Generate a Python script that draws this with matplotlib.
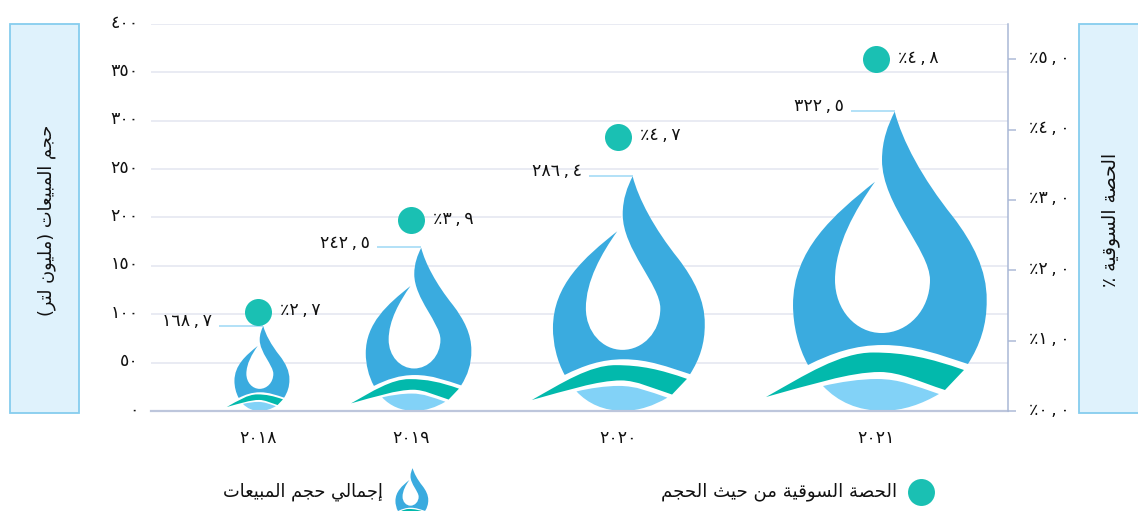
import numpy as np
import matplotlib
matplotlib.use('Agg')
import matplotlib.pyplot as plt
from matplotlib.lines import Line2D
from matplotlib.patches import PathPatch, Rectangle
from matplotlib.path import Path
from matplotlib.transforms import ScaledTranslation

W, H = 1138, 511

years = ['٢٠١٨', '٢٠١٩', '٢٠٢٠', '٢٠٢١']
drop_heights = [88, 169, 243, 310]
share_heights = [1.41, 2.71, 3.9, 5.0]
value_labels = ['١٦٨\u2009,\u2009٧', '٢٤٢\u2009,\u2009٥', '٢٨٦\u2009,\u2009٤', '٣٢٢\u2009,\u2009٥']
share_labels = ['٪٢\u2009,\u2009٧', '٪٣\u2009,\u2009٩', '٪٤\u2009,\u2009٧', '٪٤\u2009,\u2009٨']
left_ticks = [0, 50, 100, 150, 200, 250, 300, 350, 400]
left_labels = ['٠', '٥٠', '١٠٠', '١٥٠', '٢٠٠', '٢٥٠', '٣٠٠', '٣٥٠', '٤٠٠']
right_ticks = [0, 1, 2, 3, 4, 5]
right_labels = ['٪٠\u2009,\u2009٠', '٪١\u2009,\u2009٠', '٪٢\u2009,\u2009٠', '٪٣\u2009,\u2009٠', '٪٤\u2009,\u2009٠', '٪٥\u2009,\u2009٠']
left_title = 'حجم المبيعات (مليون لتر)'
right_title = 'الحصة السوقية ٪'
legend_drop = 'إجمالي حجم المبيعات'
legend_dot = 'الحصة السوقية من حيث الحجم'

BLUE = '#3AABDF'
TEAL = '#02B9AC'
LIGHT = '#82D2F7'
DOT = '#1AC0B3'
TEXT = '#111111'
NUM_SIZE = 12.5

# category centres on the x axis, the spacing is uneven in the original
cat_x = [107, 260, 467, 725]

# matplotlib has no arabic shaping, so map to presentation forms by hand
FOUR = {'ب': 0xFE8F, 'ت': 0xFE95, 'ث': 0xFE99, 'ج': 0xFE9D, 'ح': 0xFEA1, 'س': 0xFEB1,
        'ص': 0xFEB9, 'ع': 0xFEC9, 'ق': 0xFED5, 'ل': 0xFEDD, 'م': 0xFEE1, 'ن': 0xFEE5, 'ي': 0xFEF1}
TWO = {'ا': 0xFE8D, 'إ': 0xFE87, 'ة': 0xFE93, 'ر': 0xFEAD, 'و': 0xFEED}


def shape_ar(text):
    out = []
    for i, c in enumerate(text):
        prev_joins = i > 0 and text[i - 1] in FOUR
        next_joins = i < len(text) - 1 and (text[i + 1] in FOUR or text[i + 1] in TWO)
        if c in FOUR:
            offset = {(False, False): 0, (True, False): 1, (False, True): 2, (True, True): 3}[(prev_joins, next_joins)]
            out.append(chr(FOUR[c] + offset))
        elif c in TWO:
            out.append(chr(TWO[c] + (1 if prev_joins else 0)))
        else:
            out.append({'(': ')', ')': '('}.get(c, c))
    return ''.join(reversed(out))


def fig_xy(x, y):
    return x / W, 1 - y / H


# drop symbol traced off the biggest drop, in pixels: centre x 876, base y 411, height 300
# each step is (c1, c2, end) for a cubic or (end,) for a straight line
REF_X, REF_Y, REF_H = 876, 411, 300
TIP = (894.7, 111.5)
LEFT_TIP = (875, 181.7)
RIGHT_SIDE = [((902, 140), (922, 178), (953, 216.7)),
              ((973, 243), (987, 270), (986.7, 300)),
              ((987, 325), (980, 345), (968, 364))]
LEFT_SIDE = [((798, 347), (793, 325), (793, 305)),
             ((793, 250), (833, 215), LEFT_TIP)]
WAVE = [((940, 355), (915, 345), (883, 345)),
        ((855, 345), (832, 353), (808, 365))]
INNER = [((855, 210), (835, 245), (835, 280)),
         ((835, 310), (856, 333), (881.7, 333)),
         ((908, 333), (930, 310), (930, 280)),
         ((930, 250), (882, 205), (882, 160)),
         ((882, 140), (888, 125), TIP)]
BOTTOM = [((945, 390),),
          ((930, 403), (905, 410.8), (883, 410.8)),
          ((850, 410.8), (822, 392), (808, 365))]
BAND_START = (766, 397)
BAND = [((805, 375), (840, 352.5), (873, 352.5)),
        ((905, 352.5), (930, 358), (964, 370)),
        ((945, 390),),
        ((920, 382), (900, 372), (880, 372)),
        ((850, 372), (810, 385), BAND_START)]
POOL_START = (823, 386)
POOL = [((840, 382), (860, 379), (877, 379)),
        ((900, 379), (915, 386), (939, 394)),
        ((922, 404), (903, 410.8), (883, 410.8)),
        ((858, 410.8), (838, 402), POOL_START)]


def build(start, steps):
    verts = [start]
    codes = [Path.MOVETO]
    for step in steps:
        verts += list(step)
        codes += [Path.CURVE4] * 3 if len(step) == 3 else [Path.LINETO]
    verts.append(start)
    codes.append(Path.CLOSEPOLY)
    return np.array(verts, dtype=float), codes


def draw_drop(ax, x, height, base=0.0):
    py = ax.bbox.height / (ax.get_ylim()[1] - ax.get_ylim()[0])
    scale = height * py / REF_H

    def add(start, steps, color, z):
        verts, codes = build(start, steps)
        xs = x + (verts[:, 0] - REF_X) * scale
        ys = base + (REF_Y - verts[:, 1]) * scale / py
        ax.add_patch(PathPatch(Path(np.column_stack([xs, ys]), codes), facecolor=color, edgecolor='none',
                               zorder=z, clip_on=False))

    # white silhouette keeps the grid lines out of the hole
    add(TIP, RIGHT_SIDE + BOTTOM + LEFT_SIDE, 'white', 2)
    add(TIP, RIGHT_SIDE + WAVE + LEFT_SIDE + INNER, BLUE, 3)
    add(BAND_START, BAND, TEAL, 3)
    add(POOL_START, POOL, LIGHT, 3)
    return x + (TIP[0] - REF_X) * scale


fig = plt.figure(figsize=(W / 100, H / 100), dpi=100)
ax = fig.add_axes([151 / W, 1 - 411 / H, 857 / W, 387 / H])
ax.set_xlim(0, 857)
ax.set_ylim(0, 400)
ax.set_axisbelow(True)
ax.yaxis.grid(True, color='#E3E6F0', linewidth=1.1)
ax.xaxis.grid(False)
for side in ['left', 'right', 'top']:
    ax.spines[side].set_visible(False)
ax.spines['bottom'].set_color('#BDC6DC')
ax.spines['bottom'].set_linewidth(1.6)
ax.spines['bottom'].set_zorder(5)
ax.set_yticks(left_ticks)
ax.set_yticklabels(left_labels, fontsize=NUM_SIZE, color=TEXT)
ax.tick_params(axis='y', length=0, pad=9)
ax.set_xticks(cat_x)
ax.set_xticklabels(years, fontsize=NUM_SIZE, color=TEXT)
ax.tick_params(axis='x', length=0, pad=13)

ax2 = ax.twinx()
ax2.set_ylim(0, 5.5)
for side in ['left', 'top', 'bottom']:
    ax2.spines[side].set_visible(False)
ax2.spines['right'].set_color('#A9B8D6')
ax2.spines['right'].set_linewidth(1.1)
ax2.set_yticks(right_ticks)
ax2.set_yticklabels(right_labels, fontsize=NUM_SIZE, color=TEXT)
ax2.tick_params(axis='y', length=5.8, width=1.2, color='#B4C0DA', pad=9)

# the digits sit a little above their ticks in the original
lift = ScaledTranslation(0, 2.5 / 72, fig.dpi_scale_trans)
for lab in ax.get_yticklabels() + ax2.get_yticklabels():
    lab.set_transform(lab.get_transform() + lift)

for x, h, val in zip(cat_x, drop_heights, value_labels):
    tip_x = draw_drop(ax, x, h)
    ax.plot([tip_x - 44, tip_x], [h, h], color='#9ED8F5', linewidth=1.1, zorder=4, solid_capstyle='butt')
    ax.text(tip_x - 51, h + 5, val, ha='right', va='center', fontsize=NUM_SIZE, color=TEXT)

ax2.scatter(cat_x, share_heights, s=378, color=DOT, linewidths=0, zorder=6, clip_on=False)
for x, y, lab in zip(cat_x, share_heights, share_labels):
    ax2.text(x + 22, y + 0.02, lab, ha='left', va='center', fontsize=NUM_SIZE, color=TEXT)

# side panels
for x0, x1 in [(10, 79), (1079, 1145)]:
    fx, fy = fig_xy(x0, 413)
    fig.add_artist(Rectangle((fx, fy), (x1 - x0) / W, 389 / H, transform=fig.transFigure,
                             facecolor='#DFF2FC', edgecolor='#86CDEE', linewidth=1.3))
fig.text(*fig_xy(47, 220), shape_ar(left_title), rotation=90, ha='center', va='center', fontsize=12.8, color=TEXT)
fig.text(*fig_xy(1111, 220), shape_ar(right_title), rotation=90, ha='center', va='center', fontsize=13.5, color=TEXT)

# legend, hand placed like the original
draw_drop(ax, 409.5 - 151, 52.5, base=-111.5)
fig.text(*fig_xy(383, 492), shape_ar(legend_drop), ha='right', va='center', fontsize=12.8, color=TEXT)
fig.add_artist(Line2D([921 / W], [1 - 492 / H], marker='o', markersize=19.4, markerfacecolor=DOT,
                      markeredgewidth=0, transform=fig.transFigure))
fig.text(*fig_xy(897, 492), shape_ar(legend_dot), ha='right', va='center', fontsize=13.1, color=TEXT)

fig.savefig('out.png', dpi=100)
